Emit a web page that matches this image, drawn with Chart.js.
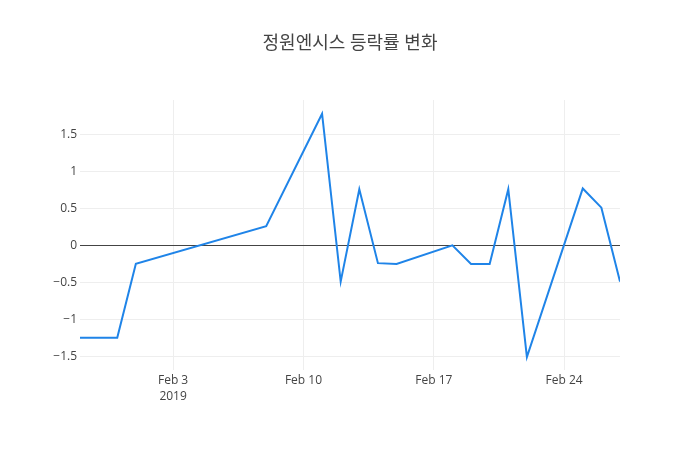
<!DOCTYPE html>
<html>
<head>
<meta charset="utf-8">
<script src="https://cdn.jsdelivr.net/npm/chart.js@4"></script>
<style>
  html, body { margin: 0; padding: 0; background: #fff; }
  #wrap { width: 700px; height: 450px; }
</style>
</head>
<body>
<div id="wrap"><canvas id="rateChart" width="700" height="450"></canvas></div>
<script>
const chartTitle = '정원엔시스 등락률 변화';

const dates = [
    '2019-01-29', '2019-01-31', '2019-02-01', '2019-02-08', '2019-02-11',
    '2019-02-12', '2019-02-13', '2019-02-14', '2019-02-15', '2019-02-18',
    '2019-02-19', '2019-02-20', '2019-02-21', '2019-02-22', '2019-02-25',
    '2019-02-26', '2019-02-27'
];
const rates = [
    -1.25, -1.25, -0.25, 0.26, 1.78,
    -0.49, 0.76, -0.24, -0.25, 0.0,
    -0.25, -0.25, 0.76, -1.51, 0.77,
    0.51, -0.49
];

const xTickDates = ['2019-02-03', '2019-02-10', '2019-02-17', '2019-02-24'];
const xTickLabels = [['Feb 3', '2019'], 'Feb 10', 'Feb 17', 'Feb 24'];
const yTicks = [-1.5, -1, -0.5, 0, 0.5, 1, 1.5];

const DAY = 86400000;
const startDay = Date.parse(dates[0]);
const toDay = d => (Date.parse(d) - startDay) / DAY;

const points = dates.map((d, i) => ({ x: toDay(d), y: rates[i] }));
const xTickValues = xTickDates.map(toDay);

function fmt(v) {
    const s = String(Math.round(v * 100) / 100);
    return v < 0 ? '\u2212' + s.slice(1) : s;
}

// title centred on the whole page, like the original
const pageTitle = {
    id: 'pageTitle',
    afterDraw(chart) {
        const c = chart.ctx;
        c.save();
        c.fillStyle = '#444';
        c.font = '18px "Open Sans", "Noto Sans CJK KR"';
        c.textAlign = 'center';
        c.textBaseline = 'middle';
        c.fillText(chartTitle, chart.width / 2, 44);
        c.restore();
    }
};

const ctx = document.getElementById('rateChart');
new Chart(ctx, {
    type: 'line',
    data: {
        datasets: [{
            data: points,
            borderColor: '#1f84e8',
            borderWidth: 2,
            pointRadius: 0,
            tension: 0,
            fill: false
        }]
    },
    options: {
        responsive: false,
        animation: false,
        layout: { padding: { left: 0, right: 80, top: 100, bottom: 0 } },
        plugins: {
            legend: { display: false },
            tooltip: { enabled: false },
            title: { display: false }
        },
        scales: {
            x: {
                type: 'linear',
                min: toDay(dates[0]),
                max: toDay(dates[dates.length - 1]),
                border: { display: false },
                grid: { color: '#eee', drawTicks: false },
                afterBuildTicks: scale => {
                    scale.ticks = xTickValues.map(v => ({ value: v }));
                },
                afterFit: scale => { scale.height = 80; },
                ticks: {
                    color: '#444',
                    padding: 3,
                    maxRotation: 0,
                    autoSkip: false,
                    font: { family: 'Open Sans', size: 12, lineHeight: 1.3 },
                    callback: (v, i) => xTickLabels[i]
                }
            },
            y: {
                min: -1.685,
                max: 1.966,
                border: { display: false },
                grid: {
                    drawTicks: false,
                    color: c => c.tick && c.tick.value === 0 ? '#444' : '#eee'
                },
                afterBuildTicks: scale => {
                    scale.ticks = yTicks.map(v => ({ value: v }));
                },
                afterFit: scale => { scale.width = 80; },
                ticks: {
                    color: '#444',
                    padding: 3,
                    font: { family: 'Open Sans', size: 12 },
                    callback: v => fmt(v)
                }
            }
        }
    },
    plugins: [pageTitle]
});
</script>
</body>
</html>
